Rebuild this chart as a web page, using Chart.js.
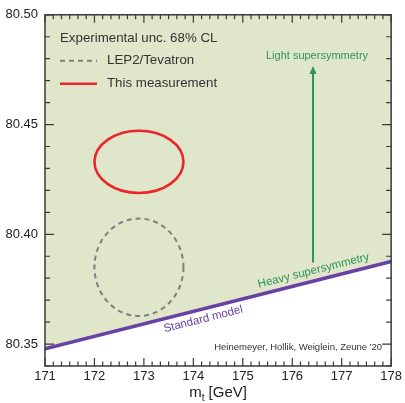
<!DOCTYPE html>
<html>
<head>
<meta charset="utf-8">
<script src="https://cdn.jsdelivr.net/npm/chart.js@4"></script>
<style>
  html, body { margin: 0; padding: 0; background: #fff; }
  canvas { display: block; }
</style>
</head>
<body>
<canvas id="mwChart" width="405" height="403"></canvas>
<script>
// --- data ---
const xTicks = [171, 172, 173, 174, 175, 176, 177, 178];
const yTicks = [80.35, 80.40, 80.45, 80.50];

// Standard model prediction (straight band edge)
const smMass = [171, 178];
const smMW = [80.3478, 80.3876];

// 68% CL ellipses: LEP2/Tevatron, This measurement
const ellipseNames = ['LEP2/Tevatron', 'This measurement'];
const ellipseCenterX = [172.9, 172.9];
const ellipseCenterY = [80.385, 80.433];
const ellipseHalfX = [0.9, 0.9];
const ellipseHalfY = [0.0222, 0.0142];

// arrow from heavy to light supersymmetry
const arrowX = [176.42, 176.42];
const arrowY = [80.3872, 80.4767];

const FONT = "'Liberation Sans', Arial, sans-serif";
const GREEN = '#2e9458';
const PURPLE = '#6940a3';
const RED = '#e8262b';
const GREY = '#7f7f7f';
const FILL = '#dfe6ca';

// 1. DRAW THE EXTRA BITS (ellipses, arrow, labels, inward ticks)
const overlay = {
    id: 'overlay',
    afterDatasetsDraw(chart) {
        const c = chart.ctx;
        const xs = chart.scales.x, ys = chart.scales.y;
        const area = chart.chartArea;

        c.save();
        c.beginPath();
        c.rect(area.left, area.top, area.width, area.height);
        c.clip();

        // ellipses
        const styles = [
            { color: GREY, width: 2, dash: [5, 4] },
            { color: RED, width: 2.6, dash: [] }
        ];
        ellipseNames.forEach((name, i) => {
            const cx = xs.getPixelForValue(ellipseCenterX[i]);
            const cy = ys.getPixelForValue(ellipseCenterY[i]);
            const rx = Math.abs(xs.getPixelForValue(ellipseCenterX[i] + ellipseHalfX[i]) - cx);
            const ry = Math.abs(ys.getPixelForValue(ellipseCenterY[i] + ellipseHalfY[i]) - cy);
            c.beginPath();
            c.ellipse(cx, cy, rx, ry, 0, 0, Math.PI * 2);
            c.strokeStyle = styles[i].color;
            c.lineWidth = styles[i].width;
            c.setLineDash(styles[i].dash);
            c.stroke();
        });
        c.setLineDash([]);

        // arrow
        const ax = xs.getPixelForValue(arrowX[0]);
        const ay0 = ys.getPixelForValue(arrowY[0]);
        const ay1 = ys.getPixelForValue(arrowY[1]);
        c.strokeStyle = GREEN;
        c.fillStyle = GREEN;
        c.lineWidth = 2;
        c.beginPath();
        c.moveTo(ax, ay0);
        c.lineTo(ax, ay1 + 6);
        c.stroke();
        c.beginPath();
        c.moveTo(ax, ay1);
        c.lineTo(ax - 3.5, ay1 + 8);
        c.lineTo(ax + 3.5, ay1 + 8);
        c.closePath();
        c.fill();

        c.font = '11px ' + FONT;
        c.textAlign = 'center';
        c.textBaseline = 'middle';
        c.fillText('Light supersymmetry', ax + 4, ay1 - 10);

        // labels along the SM line
        const px0 = xs.getPixelForValue(smMass[0]), py0 = ys.getPixelForValue(smMW[0]);
        const px1 = xs.getPixelForValue(smMass[1]), py1 = ys.getPixelForValue(smMW[1]);
        const ang = Math.atan2(py1 - py0, px1 - px0);
        const onLine = (m) => {
            const t = (m - smMass[0]) / (smMass[1] - smMass[0]);
            return [xs.getPixelForValue(m), py0 + t * (py1 - py0)];
        };
        const lineLabel = (text, m, off, color) => {
            const [lx, ly] = onLine(m);
            c.save();
            c.translate(lx, ly);
            c.rotate(ang);
            c.fillStyle = color;
            c.font = '11.5px ' + FONT;
            c.fillText(text, 0, off);
            c.restore();
        };
        lineLabel('Heavy supersymmetry', 176.48, -10, GREEN);
        lineLabel('Standard model', 174.15, 10, PURPLE);

        // legend
        const lx = area.left + 15;
        c.textAlign = 'left';
        c.fillStyle = '#333';
        c.font = '13.3px ' + FONT;
        c.fillText('Experimental unc. 68% CL', lx, area.top + 24);
        c.strokeStyle = GREY;
        c.lineWidth = 2;
        c.setLineDash([5, 4]);
        c.beginPath();
        c.moveTo(lx, area.top + 46);
        c.lineTo(lx + 37, area.top + 46);
        c.stroke();
        c.setLineDash([]);
        c.fillText(ellipseNames[0], lx + 47, area.top + 46);
        c.strokeStyle = RED;
        c.lineWidth = 2.6;
        c.beginPath();
        c.moveTo(lx, area.top + 69);
        c.lineTo(lx + 37, area.top + 69);
        c.stroke();
        c.fillText(ellipseNames[1], lx + 47, area.top + 69);

        // credit
        c.textAlign = 'right';
        c.font = '9.5px ' + FONT;
        c.fillStyle = '#333';
        c.fillText("Heinemeyer, Hollik, Weiglein, Zeune '20", area.right - 9, ys.getPixelForValue(80.35) + 3);
        c.restore();

        // inward ticks on all four sides
        c.save();
        c.strokeStyle = '#3a3a3a';
        c.lineWidth = 1.2;
        c.beginPath();
        for (let k = 0; k <= (xTicks[xTicks.length - 1] - xTicks[0]) * 6; k++) {
            const v = xTicks[0] + k / 6;
            const p = xs.getPixelForValue(v);
            const len = k % 6 === 0 ? 8 : 4.5;
            c.moveTo(p, area.bottom); c.lineTo(p, area.bottom - len);
            c.moveTo(p, area.top); c.lineTo(p, area.top + len);
        }
        for (let k = 0; k <= 16; k++) {
            const v = 80.34 + k * 0.01;
            const p = ys.getPixelForValue(v);
            const major = yTicks.some(t => Math.abs(t - v) < 1e-6);
            const len = major ? 9 : 5;
            c.moveTo(area.left, p); c.lineTo(area.left + len, p);
            c.moveTo(area.right, p); c.lineTo(area.right - len, p);
        }
        c.stroke();
        c.lineWidth = 1.5;
        c.strokeRect(area.left, area.top, area.width, area.height);
        c.restore();

        // x axis title with subscript
        c.save();
        c.fillStyle = '#222';
        c.textBaseline = 'alphabetic';
        c.textAlign = 'left';
        c.font = '15px ' + FONT;
        const wM = c.measureText('m').width;
        const wRest = c.measureText(' [GeV]').width;
        c.font = '10px ' + FONT;
        const wT = c.measureText('t').width;
        const total = wM + wT + wRest;
        let tx = (area.left + area.right) / 2 - total / 2;
        const ty = 397;
        c.font = '15px ' + FONT;
        c.fillText('m', tx, ty);
        c.font = '10px ' + FONT;
        c.fillText('t', tx + wM, ty + 4);
        c.font = '15px ' + FONT;
        c.fillText(' [GeV]', tx + wM + wT, ty);
        c.restore();
    }
};

// 2. INITIALIZE THE CHART
const ctx = document.getElementById('mwChart').getContext('2d');

const mwChart = new Chart(ctx, {
    type: 'scatter',
    data: {
        datasets: [{
            label: 'Standard model',
            data: smMass.map((m, i) => ({ x: m, y: smMW[i] })),
            showLine: true,
            borderColor: PURPLE,
            borderWidth: 3.5,
            backgroundColor: FILL,
            fill: 'end',
            pointRadius: 0
        }]
    },
    options: {
        responsive: false,
        animation: false,
        devicePixelRatio: 1,
        layout: { padding: { top: 11, right: 13, left: 0, bottom: 0 } },
        plugins: {
            legend: { display: false },
            tooltip: { enabled: false }
        },
        scales: {
            x: {
                type: 'linear',
                min: 171,
                max: 178,
                grid: { display: false, drawTicks: false },
                border: { display: false },
                afterBuildTicks: (s) => { s.ticks = xTicks.map(v => ({ value: v })); },
                afterFit: (s) => { s.height = 37; },
                ticks: {
                    padding: 3,
                    color: '#222',
                    font: { family: FONT, size: 13 },
                    callback: (v) => String(v)
                }
            },
            y: {
                type: 'linear',
                min: 80.34,
                max: 80.50,
                grid: { display: false, drawTicks: false },
                border: { display: false },
                afterBuildTicks: (s) => { s.ticks = yTicks.map(v => ({ value: v })); },
                afterFit: (s) => { s.width = 45; },
                ticks: {
                    padding: 7,
                    color: '#222',
                    font: { family: FONT, size: 13 },
                    callback: (v) => Number(v).toFixed(2)
                }
            }
        }
    },
    plugins: [overlay]
});
</script>
</body>
</html>
